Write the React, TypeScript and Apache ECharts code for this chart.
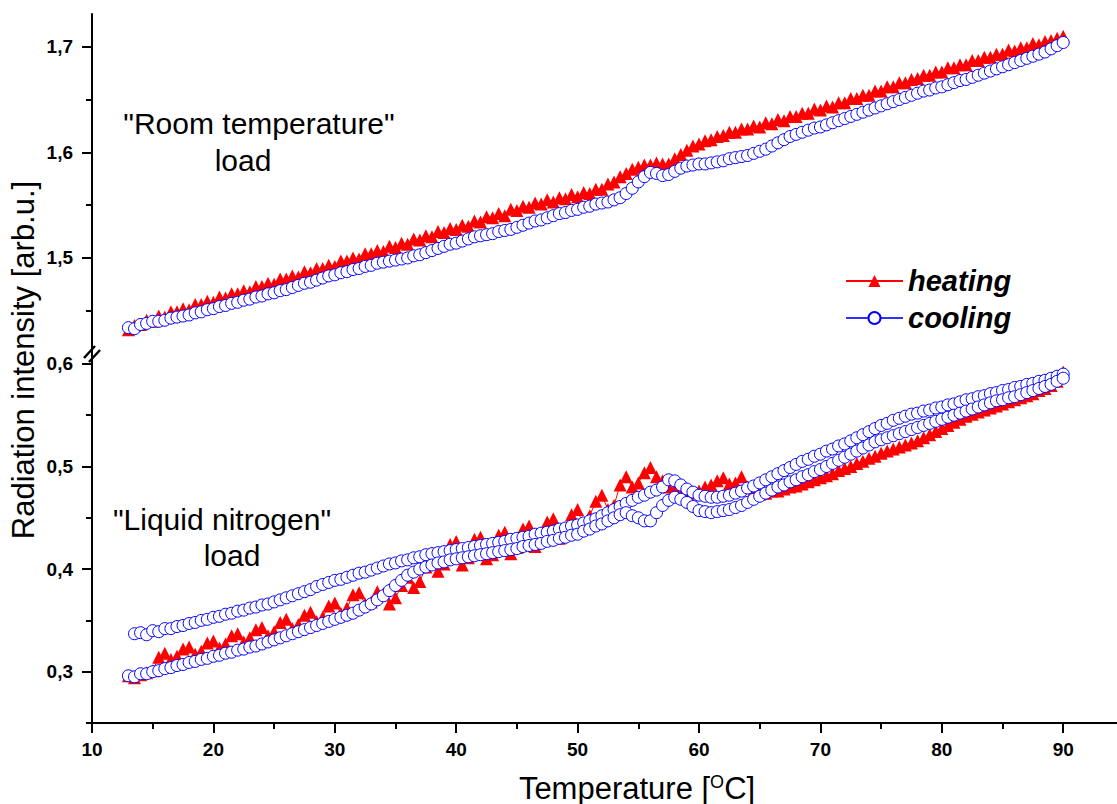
import React, { useEffect, useRef } from 'react';
import * as echarts from 'echarts';

// Temperature grid [°C]
const temps = [
  13, 13.5, 14, 14.5, 15, 15.5, 16, 16.5, 17, 17.5,
  18, 18.5, 19, 19.5, 20, 20.5, 21, 21.5, 22, 22.5,
  23, 23.5, 24, 24.5, 25, 25.5, 26, 26.5, 27, 27.5,
  28, 28.5, 29, 29.5, 30, 30.5, 31, 31.5, 32, 32.5,
  33, 33.5, 34, 34.5, 35, 35.5, 36, 36.5, 37, 37.5,
  38, 38.5, 39, 39.5, 40, 40.5, 41, 41.5, 42, 42.5,
  43, 43.5, 44, 44.5, 45, 45.5, 46, 46.5, 47, 47.5,
  48, 48.5, 49, 49.5, 50, 50.5, 51, 51.5, 52, 52.5,
  53, 53.5, 54, 54.5, 55, 55.5, 56, 56.5, 57, 57.5,
  58, 58.5, 59, 59.5, 60, 60.5, 61, 61.5, 62, 62.5,
  63, 63.5, 64, 64.5, 65, 65.5, 66, 66.5, 67, 67.5,
  68, 68.5, 69, 69.5, 70, 70.5, 71, 71.5, 72, 72.5,
  73, 73.5, 74, 74.5, 75, 75.5, 76, 76.5, 77, 77.5,
  78, 78.5, 79, 79.5, 80, 80.5, 81, 81.5, 82, 82.5,
  83, 83.5, 84, 84.5, 85, 85.5, 86, 86.5, 87, 87.5,
  88, 88.5, 89, 89.5, 90,
];

// "Room temperature" load (upper panel)
const roomHeating = [
  1.432, 1.436, 1.437, 1.441, 1.440, 1.445, 1.444, 1.449, 1.449, 1.452,
  1.451, 1.456, 1.456, 1.459, 1.458, 1.463, 1.462, 1.466, 1.466, 1.469,
  1.468, 1.473, 1.473, 1.476, 1.475, 1.480, 1.480, 1.483, 1.482, 1.487,
  1.486, 1.490, 1.490, 1.493, 1.492, 1.497, 1.497, 1.500, 1.499, 1.504,
  1.504, 1.507, 1.506, 1.511, 1.510, 1.514, 1.513, 1.518, 1.517, 1.521,
  1.520, 1.525, 1.524, 1.528, 1.527, 1.531, 1.530, 1.535, 1.534, 1.539,
  1.538, 1.542, 1.540, 1.546, 1.545, 1.549, 1.548, 1.552, 1.551, 1.555,
  1.553, 1.557, 1.556, 1.560, 1.558, 1.562, 1.561, 1.565, 1.565, 1.570,
  1.572, 1.577, 1.580, 1.584, 1.586, 1.588, 1.588, 1.590, 1.589, 1.589,
  1.594, 1.598, 1.602, 1.606, 1.608, 1.611, 1.612, 1.615, 1.616, 1.619,
  1.619, 1.622, 1.622, 1.625, 1.624, 1.628, 1.627, 1.631, 1.630, 1.634,
  1.634, 1.637, 1.637, 1.641, 1.640, 1.644, 1.643, 1.647, 1.647, 1.651,
  1.651, 1.654, 1.654, 1.658, 1.658, 1.662, 1.662, 1.666, 1.666, 1.669,
  1.670, 1.673, 1.673, 1.676, 1.676, 1.680, 1.680, 1.683, 1.683, 1.687,
  1.687, 1.690, 1.690, 1.693, 1.693, 1.697, 1.696, 1.699, 1.699, 1.703,
  1.702, 1.705, 1.706, 1.708, 1.710,
];
const roomCooling = [
  1.434, 1.433, 1.437, 1.438, 1.440, 1.440, 1.441, 1.443, 1.444, 1.445,
  1.446, 1.448, 1.449, 1.451, 1.452, 1.454, 1.455, 1.457, 1.458, 1.460,
  1.461, 1.463, 1.464, 1.466, 1.467, 1.469, 1.470, 1.472, 1.474, 1.476,
  1.477, 1.479, 1.481, 1.483, 1.484, 1.486, 1.487, 1.489, 1.490, 1.492,
  1.493, 1.495, 1.496, 1.497, 1.498, 1.499, 1.500, 1.502, 1.503, 1.505,
  1.507, 1.509, 1.511, 1.513, 1.514, 1.516, 1.518, 1.520, 1.521, 1.522,
  1.523, 1.525, 1.526, 1.527, 1.529, 1.531, 1.533, 1.535, 1.536, 1.538,
  1.540, 1.542, 1.543, 1.545, 1.546, 1.548, 1.549, 1.551, 1.552, 1.553,
  1.555, 1.557, 1.561, 1.566, 1.572, 1.577, 1.581, 1.580, 1.578, 1.579,
  1.582, 1.585, 1.587, 1.588, 1.589, 1.589, 1.590, 1.591, 1.592, 1.594,
  1.595, 1.596, 1.597, 1.599, 1.601, 1.603, 1.606, 1.609, 1.612, 1.615,
  1.617, 1.619, 1.621, 1.623, 1.624, 1.626, 1.628, 1.630, 1.632, 1.634,
  1.636, 1.638, 1.640, 1.642, 1.644, 1.646, 1.648, 1.650, 1.652, 1.654,
  1.656, 1.658, 1.659, 1.661, 1.662, 1.664, 1.666, 1.668, 1.669, 1.671,
  1.673, 1.675, 1.677, 1.679, 1.681, 1.683, 1.685, 1.687, 1.689, 1.691,
  1.693, 1.695, 1.698, 1.701, 1.704,
];

// "Liquid nitrogen" load (lower panel)
const ln2Heating = [
  0.296, 0.294, 0.297, 0.299, 0.301, 0.314, 0.318, 0.312, 0.315, 0.322,
  0.324, 0.317, 0.320, 0.328, 0.330, 0.323, 0.327, 0.335, 0.337, 0.329,
  0.333, 0.341, 0.343, 0.335, 0.339, 0.348, 0.351, 0.342, 0.346, 0.355,
  0.358, 0.349, 0.353, 0.364, 0.367, 0.357, 0.362, 0.375, 0.377, 0.366,
  0.368, 0.378, 0.376, 0.366, 0.372, 0.384, 0.392, 0.382, 0.388, 0.402,
  0.416, 0.398, 0.405, 0.424, 0.427, 0.404, 0.411, 0.429, 0.431, 0.410,
  0.414, 0.433, 0.436, 0.415, 0.421, 0.439, 0.442, 0.422, 0.428, 0.446,
  0.449, 0.430, 0.436, 0.453, 0.458, 0.441, 0.452, 0.466, 0.472, 0.458,
  0.462, 0.482, 0.490, 0.480, 0.484, 0.494, 0.499, 0.490, 0.486, 0.480,
  0.478, 0.472, 0.470, 0.474, 0.476, 0.480, 0.482, 0.486, 0.489, 0.483,
  0.484, 0.490, 0.480, 0.476, 0.473, 0.474, 0.476, 0.476, 0.478, 0.480,
  0.481, 0.483, 0.485, 0.487, 0.489, 0.491, 0.493, 0.496, 0.498, 0.500,
  0.503, 0.505, 0.508, 0.510, 0.513, 0.515, 0.517, 0.519, 0.521, 0.523,
  0.525, 0.528, 0.531, 0.534, 0.537, 0.540, 0.543, 0.546, 0.549, 0.551,
  0.553, 0.555, 0.557, 0.559, 0.561, 0.563, 0.565, 0.567, 0.569, 0.571,
  0.574, 0.576, 0.579, 0.583, 0.592,
];
// cooling run that starts near 14 °C (upper branch on the left)
const ln2CoolingA = [
  null, 0.337, 0.338, 0.336, 0.340, 0.339, 0.342, 0.342, 0.344, 0.345,
  0.347, 0.348, 0.350, 0.351, 0.353, 0.354, 0.356, 0.357, 0.359, 0.360,
  0.362, 0.363, 0.365, 0.366, 0.368, 0.370, 0.372, 0.374, 0.376, 0.378,
  0.380, 0.383, 0.385, 0.387, 0.389, 0.390, 0.392, 0.394, 0.396, 0.397,
  0.399, 0.401, 0.403, 0.405, 0.406, 0.408, 0.409, 0.411, 0.412, 0.414,
  0.415, 0.416, 0.417, 0.418, 0.419, 0.420, 0.421, 0.422, 0.423, 0.424,
  0.425, 0.426, 0.427, 0.429, 0.430, 0.431, 0.432, 0.434, 0.435, 0.436,
  0.437, 0.439, 0.440, 0.442, 0.443, 0.445, 0.447, 0.449, 0.452, 0.455,
  0.458, 0.461, 0.464, 0.467, 0.470, 0.472, 0.475, 0.477, 0.480, 0.487,
  0.486, 0.482, 0.478, 0.475, 0.472, 0.471, 0.470, 0.470, 0.471, 0.472,
  0.474, 0.476, 0.479, 0.481, 0.484, 0.487, 0.490, 0.493, 0.496, 0.499,
  0.502, 0.505, 0.507, 0.510, 0.512, 0.515, 0.517, 0.520, 0.522, 0.525,
  0.528, 0.531, 0.534, 0.537, 0.540, 0.542, 0.545, 0.547, 0.549, 0.551,
  0.552, 0.554, 0.555, 0.557, 0.558, 0.560, 0.561, 0.563, 0.565, 0.566,
  0.568, 0.569, 0.571, 0.572, 0.574, 0.575, 0.577, 0.578, 0.580, 0.581,
  0.583, 0.584, 0.586, 0.588, 0.590,
];
// cooling run that starts at 13 °C (lower branch on the left)
const ln2CoolingB = [
  0.296, 0.295, 0.298, 0.298, 0.300, 0.301, 0.303, 0.304, 0.306, 0.307,
  0.309, 0.310, 0.312, 0.313, 0.315, 0.316, 0.318, 0.319, 0.321, 0.322,
  0.324, 0.325, 0.327, 0.329, 0.331, 0.333, 0.335, 0.337, 0.339, 0.341,
  0.343, 0.345, 0.347, 0.349, 0.351, 0.353, 0.355, 0.357, 0.360, 0.363,
  0.366, 0.370, 0.374, 0.379, 0.384, 0.389, 0.394, 0.397, 0.400, 0.402,
  0.404, 0.406, 0.407, 0.409, 0.410, 0.411, 0.412, 0.413, 0.414, 0.415,
  0.416, 0.417, 0.418, 0.419, 0.420, 0.422, 0.423, 0.424, 0.425, 0.427,
  0.428, 0.430, 0.431, 0.433, 0.434, 0.437, 0.439, 0.442, 0.444, 0.447,
  0.450, 0.453, 0.455, 0.452, 0.450, 0.447, 0.447, 0.455, 0.462, 0.467,
  0.470, 0.468, 0.465, 0.461, 0.457, 0.456, 0.455, 0.456, 0.457, 0.458,
  0.460, 0.462, 0.465, 0.468, 0.471, 0.474, 0.477, 0.480, 0.482, 0.485,
  0.487, 0.490, 0.492, 0.495, 0.497, 0.500, 0.503, 0.506, 0.509, 0.512,
  0.515, 0.518, 0.521, 0.524, 0.526, 0.528, 0.530, 0.532, 0.534, 0.536,
  0.538, 0.540, 0.542, 0.544, 0.546, 0.548, 0.550, 0.552, 0.554, 0.556,
  0.558, 0.560, 0.562, 0.564, 0.565, 0.567, 0.568, 0.570, 0.572, 0.574,
  0.576, 0.578, 0.580, 0.583, 0.586,
];

// Ticks
const xMajorTicks = [10, 20, 30, 40, 50, 60, 70, 80, 90];
const xMinorTicks = [15, 25, 35, 45, 55, 65, 75, 85];
const upperMajorTicks = [1.5, 1.6, 1.7];
const upperMinorTicks = [1.45, 1.55, 1.65];
const lowerMajorTicks = [0.3, 0.4, 0.5, 0.6];
const lowerMinorTicks = [0.25, 0.35, 0.45, 0.55];

const FONT = '"Liberation Sans", Arial, Helvetica, sans-serif';

const pairs = (ys: (number | null)[]) =>
  temps.map((t, i) => [t, ys[i]]).filter((p) => p[1] !== null && p[1] !== undefined);

const fmt = (v: number) => v.toFixed(1).replace('.', ',');

export default function App() {
  const ref = useRef<HTMLDivElement>(null);

  useEffect(() => {
    if (!ref.current) return;
    const chart = echarts.init(ref.current, null, { renderer: 'svg' });

    const X_MIN = 10;
    const X_MAX = 94.43;
    const axisLineStyle = { color: '#000', width: 2 };
    const labelStyle = { color: '#000', fontSize: 19, fontWeight: 'bold' as const, fontFamily: FONT };
    const tickStyle = { color: '#000', width: 2 };

    const heating = {
      type: 'line',
      name: 'heating',
      symbol: 'triangle',
      symbolSize: 13,
      showSymbol: true,
      showAllSymbol: true,
      itemStyle: { color: '#ff0000' },
      lineStyle: { color: '#ff0000', width: 1 },
      z: 2,
      silent: true,
    };
    const cooling = {
      type: 'line',
      name: 'cooling',
      symbol: 'circle',
      symbolSize: 12,
      showSymbol: true,
      showAllSymbol: true,
      itemStyle: { color: '#ffffff', borderColor: '#0000ff', borderWidth: 1 },
      lineStyle: { color: '#3030ff', width: 1 },
      z: 3,
      silent: true,
    };

    const textStyleCenter = {
      fontFamily: FONT, fill: '#000',
      align: 'center', verticalAlign: 'middle', textAlign: 'center', textVerticalAlign: 'middle',
    };

    chart.setOption({
      animation: false,
      backgroundColor: '#ffffff',
      grid: [
        { left: 92, right: 0, top: 14, height: 339, outerBoundsMode: 'none' },
        { left: 92, right: 0, top: 353, height: 370, outerBoundsMode: 'none' },
      ],
      xAxis: [
        { gridIndex: 0, type: 'value', min: X_MIN, max: X_MAX, show: false, position: 'bottom' },
        {
          gridIndex: 1, type: 'value', min: X_MIN, max: X_MAX, position: 'bottom',
          axisLine: { show: true, lineStyle: axisLineStyle },
          axisTick: { show: true, inside: false, length: 10, lineStyle: tickStyle, customValues: xMajorTicks },
          axisLabel: { show: true, customValues: xMajorTicks, margin: 17, ...labelStyle },
          splitLine: { show: false },
        },
        {
          gridIndex: 1, type: 'value', min: X_MIN, max: X_MAX, position: 'bottom', offset: 0,
          axisLine: { show: false },
          axisTick: { show: true, inside: false, length: 6, lineStyle: tickStyle, customValues: xMinorTicks },
          axisLabel: { show: false },
          splitLine: { show: false },
        },
      ],
      yAxis: [
        {
          gridIndex: 0, type: 'value', min: 1.41, max: 1.731, position: 'left',
          axisLine: { show: true, lineStyle: axisLineStyle },
          axisTick: { show: true, inside: false, length: 10, lineStyle: tickStyle, customValues: upperMajorTicks },
          axisLabel: { show: true, customValues: upperMajorTicks, margin: 19, formatter: fmt, ...labelStyle },
          splitLine: { show: false },
        },
        {
          gridIndex: 0, type: 'value', min: 1.41, max: 1.731, position: 'left', offset: 0,
          axisLine: { show: false },
          axisTick: { show: true, inside: false, length: 6, lineStyle: tickStyle, customValues: upperMinorTicks },
          axisLabel: { show: false },
          splitLine: { show: false },
        },
        {
          gridIndex: 1, type: 'value', min: 0.25, max: 0.6106, position: 'left',
          axisLine: { show: true, lineStyle: axisLineStyle },
          axisTick: { show: true, inside: false, length: 10, lineStyle: tickStyle, customValues: lowerMajorTicks },
          axisLabel: { show: true, customValues: lowerMajorTicks, margin: 19, formatter: fmt, ...labelStyle },
          splitLine: { show: false },
        },
        {
          gridIndex: 1, type: 'value', min: 0.25, max: 0.6106, position: 'left', offset: 0,
          axisLine: { show: false },
          axisTick: { show: true, inside: false, length: 6, lineStyle: tickStyle, customValues: lowerMinorTicks },
          axisLabel: { show: false },
          splitLine: { show: false },
        },
      ],
      legend: {
        data: ['heating', 'cooling'],
        orient: 'vertical',
        left: 840,
        top: 261,
        itemWidth: 57,
        itemHeight: 15,
        itemGap: 7,
        selectedMode: false,
        textStyle: {
          color: '#000', fontSize: 29, fontWeight: 'bold', fontStyle: 'italic', fontFamily: FONT,
          lineHeight: 30,
        },
      },
      series: [
        { ...heating, xAxisIndex: 0, yAxisIndex: 0, data: pairs(roomHeating) },
        { ...heating, xAxisIndex: 1, yAxisIndex: 2, data: pairs(ln2Heating) },
        { ...cooling, xAxisIndex: 0, yAxisIndex: 0, data: pairs(roomCooling) },
        { ...cooling, xAxisIndex: 1, yAxisIndex: 2, data: pairs(ln2CoolingA) },
        { ...cooling, xAxisIndex: 1, yAxisIndex: 2, data: pairs(ln2CoolingB) },
      ],
      graphic: [
        // axis break marks
        { type: 'line', shape: { x1: 84, y1: 358, x2: 95, y2: 346 }, style: { stroke: '#000', lineWidth: 2.5 }, z: 100 },
        { type: 'line', shape: { x1: 89, y1: 362, x2: 100, y2: 350 }, style: { stroke: '#000', lineWidth: 2.5 }, z: 100 },
        // annotations
        { type: 'text', x: 259, y: 123, style: { text: '"Room temperature"', fontSize: 30, ...textStyleCenter } },
        { type: 'text', x: 243, y: 160, style: { text: 'load', fontSize: 30, ...textStyleCenter } },
        { type: 'text', x: 222, y: 519, style: { text: '"Liquid nitrogen"', fontSize: 30, ...textStyleCenter } },
        { type: 'text', x: 232, y: 555, style: { text: 'load', fontSize: 30, ...textStyleCenter } },
        // y axis title
        { type: 'text', x: 23, y: 360, rotation: Math.PI / 2, style: { text: 'Radiation intensity [arb.u.]', fontSize: 31, ...textStyleCenter } },
        // x axis title
        {
          type: 'text', x: 637, y: 788,
          style: {
            text: '{a|Temperature [}{s|O}{a|C]}',
            align: 'center', verticalAlign: 'middle', textAlign: 'center', textVerticalAlign: 'middle',
            fill: '#000',
            rich: {
              a: { fontSize: 31, fontFamily: FONT, fill: '#000', color: '#000' },
              s: { fontSize: 18, fontFamily: FONT, fill: '#000', color: '#000', verticalAlign: 'top' },
            },
          },
        },
      ],
    });

    return () => chart.dispose();
  }, []);

  return <div ref={ref} style={{ position: 'absolute', left: 0, top: 0, width: 1117, height: 804 }} />;
}
